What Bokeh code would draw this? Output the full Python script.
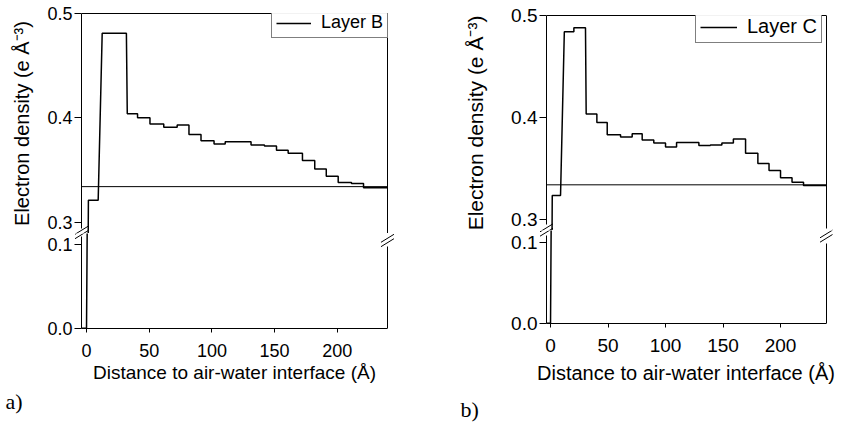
from bokeh.plotting import figure
from bokeh.models import (FixedTicker, PrintfTickFormatter, Range1d, LinearAxis, Title)
from bokeh.layouts import column, row
from bokeh.embed import file_html
from bokeh.resources import INLINE

# ---------------- data ----------------
# Layer B: leading part of the profile (x in Angstrom, density in e/A^3)
layer_b_head_x = [-4.0, 0.0, 1.5, 9.3, 12.5, 31.8]
layer_b_head_y = [0.0, 0.0, 0.321, 0.321, 0.481, 0.481]
# Layer B: slab boundaries and slab densities after the peak
layer_b_edges = [32.5, 40.7, 50.6, 61.6, 72.3, 81.7, 91.3, 101.7, 110.6, 131.2,
                 141.9, 151.5, 160.8, 172.2, 182.0, 191.2, 200.7, 211.3, 220.9, 240.0]
layer_b_vals = [0.404, 0.400, 0.394, 0.391, 0.393, 0.384, 0.378, 0.375, 0.377,
                0.374, 0.373, 0.369, 0.366, 0.359, 0.351, 0.344, 0.338, 0.337, 0.333]

# Layer C
layer_c_head_x = [-3.5, 0.0, 1.5, 8.7, 12.0, 20.3, 20.3, 30.4]
layer_c_head_y = [0.0, 0.0, 0.3235, 0.3235, 0.484, 0.484, 0.488, 0.488]
layer_c_edges = [31.0, 40.3, 49.3, 60.9, 71.0, 79.7, 89.8, 100.0, 109.6, 129.0,
                 139.0, 149.0, 159.0, 169.6, 180.3, 190.0, 200.0, 210.0, 220.0, 240.0]
layer_c_vals = [0.4035, 0.395, 0.383, 0.381, 0.384, 0.378, 0.375, 0.371, 0.3755,
                0.3725, 0.373, 0.375, 0.379, 0.365, 0.355, 0.348, 0.341, 0.3366, 0.3333]

water_density = 0.334
x_ticks = [0, 50, 100, 150, 200]
upper_y_ticks = [0.3, 0.4, 0.5]
lower_y_ticks = [0.0, 0.1]
y_label = "Electron density (e Å⁻³)"
x_label = "Distance to air-water interface (Å)"

FONT = "Liberation Sans"


def profile(head_x, head_y, edges, vals):
    xs, ys = list(head_x), list(head_y)
    for i, v in enumerate(vals):
        xs += [edges[i], edges[i + 1]]
        ys += [v, v]
    return xs, ys


def style_axis(ax, size):
    ax.axis_line_color = "black"
    ax.axis_line_width = 1
    ax.major_tick_line_color = "black"
    ax.minor_tick_line_color = None
    ax.major_tick_in = 0
    ax.major_label_text_font = FONT
    ax.major_label_text_font_size = size
    ax.major_label_text_color = "black"
    ax.axis_label_text_font = FONT
    ax.axis_label_text_font_style = "normal"
    ax.axis_label_text_color = "black"


def bare_axis(**kw):
    ax = LinearAxis(ticker=FixedTicker(ticks=[]), **kw)
    ax.axis_line_color = "black"
    ax.axis_line_width = 1
    ax.major_tick_line_color = None
    ax.minor_tick_line_color = None
    ax.major_label_text_font_size = "0px"
    return ax


def left_axis(ax, g, ticks):
    # the axis sits on the frame edge; its visible line is drawn a few px inside
    style_axis(ax, g["tick_fs"])
    ax.axis_line_color = None
    ax.ticker = FixedTicker(ticks=ticks)
    ax.formatter = PrintfTickFormatter(format="%.1f")
    ax.major_tick_in = g["ax_px"] - g["lb"]
    ax.major_tick_out = 0
    ax.major_label_standoff = g["ytick_so"]


def panel(xs, ys, name, tag, g):
    x0, x1 = g["x0"], 240.0                 # axis limits (data)
    sx = g["sx"]
    fl = g["lb"]
    xs0 = x0 - (g["ax_px"] - fl) / sx
    xr = (xs0, xs0 + g["fw"] / sx)

    def up_y(py):
        return 0.5 - (py - g["up_top"]) / g["sy_up"]

    def lo_y(py):
        return g["lo_y0"] + (g["frame_bot"] - py) / g["sy_lo"]

    # ---------- upper part ----------
    up = figure(width=g["w"], height=g["split"], x_range=Range1d(*xr),
                y_range=Range1d(up_y(g["split"]), 0.5), output_backend="svg",
                toolbar_location=None, x_axis_location=None,
                min_border_left=g["lb"], min_border_right=g["rb"],
                min_border_top=g["up_top"], min_border_bottom=0)
    up.outline_line_color = None
    up.xgrid.grid_line_color = None
    up.ygrid.grid_line_color = None
    up.line(xs, ys, line_color="black", line_width=1.5, legend_label=name)
    up.line([x0, x1], [water_density, water_density], line_color="black", line_width=1)
    # left axis line of the upper part (stops at the break)
    up.line([x0, x0], [up_y(g["lgap"][0]), 0.5], line_color="black", line_width=1)

    ya = up.yaxis[0]
    left_axis(ya, g, upper_y_ticks)
    ya.axis_label = y_label
    ya.axis_label_text_font_size = g["ylab_fs"]
    ya.axis_label_standoff = g["ylab_so"]

    up.add_layout(bare_axis(bounds=(x0, x1)), "above")
    up.add_layout(bare_axis(fixed_location=x1, bounds=(up_y(g["rgap"][0]), 0.5)), "right")

    lg = up.legend[0]
    lg.location = g["leg_loc"]
    lg.margin = 0
    lg.padding = g["leg_pad"]
    lg.spacing = 0
    lg.border_line_color = "black"
    lg.border_line_width = 1
    lg.label_text_font = FONT
    lg.label_text_font_size = g["leg_fs"]
    lg.label_text_line_height = 1.0
    lg.label_text_color = "black"
    lg.glyph_width = g["leg_gw"]
    lg.glyph_height = 16
    lg.label_height = 16
    lg.label_standoff = g["leg_ls"]

    # ---------- lower part ----------
    lo = figure(width=g["w"], height=429 - g["split"], x_range=up.x_range,
                y_range=Range1d(g["lo_y0"], lo_y(g["split"])), output_backend="svg",
                toolbar_location=None,
                min_border_left=g["lb"], min_border_right=g["rb"],
                min_border_top=0, min_border_bottom=429 - g["frame_bot"])
    lo.outline_line_color = None
    lo.xgrid.grid_line_color = None
    lo.ygrid.grid_line_color = None
    lo.line(xs, ys, line_color="black", line_width=1.5)
    lo.line([x0, x0], [g["lo_y0"], lo_y(g["lgap"][1])], line_color="black", line_width=1)

    ly = lo.yaxis[0]
    left_axis(ly, g, lower_y_ticks)
    lo.add_layout(bare_axis(fixed_location=x1, bounds=(g["lo_y0"], lo_y(g["rgap"][1]))), "right")

    lx = lo.xaxis[0]
    style_axis(lx, g["tick_fs"])
    lx.bounds = (x0, x1)
    lx.ticker = FixedTicker(ticks=x_ticks)
    lx.major_tick_out = 4
    lx.major_label_standoff = g["xtick_so"]
    lx.axis_label = x_label
    lx.axis_label_text_font_size = g["xlab_fs"]
    lx.axis_label_standoff = g["xlab_so"]

    lo.add_layout(Title(text=tag, align="left", offset=g["tag_off"],
                        standoff=g["tag_so"], text_font="Liberation Serif",
                        text_font_size="22px", text_font_style="normal",
                        text_color="black"), "below")

    # ---------- axis-break marks "//" (both parts, clipped at the split) ----------
    mx0, my0, mx1, my1 = [], [], [], []
    for (cxp, cyp) in ((g["ax_px"], sum(g["lgap"]) / 2.0),
                       (g["ax_px"] + (x1 - x0) * sx, sum(g["rgap"]) / 2.0)):
        for off in (-2.2, 2.2):
            mx0.append(cxp - 6.5)
            my0.append(cyp + 4 + off)
            mx1.append(cxp + 6.5)
            my1.append(cyp - 4 + off)
    to_x = lambda px: xr[0] + (px - fl) / sx
    up.segment(x0=[to_x(v) for v in mx0], y0=[up_y(v) for v in my0],
               x1=[to_x(v) for v in mx1], y1=[up_y(v) for v in my1],
               line_color="black", line_width=1)
    lo.segment(x0=[to_x(v) for v in mx0], y0=[lo_y(v) for v in my0],
               x1=[to_x(v) for v in mx1], y1=[lo_y(v) for v in my1],
               line_color="black", line_width=1)
    return column(up, lo)


# pixel geometry (relative to each panel's own left edge / window top)
geo_a = dict(w=412, lb=74, rb=18, fw=320, x0=-4.0, ax_px=81, sx=1.254,
             up_top=13, sy_up=1043.0, split=233, frame_bot=328,
             lo_y0=-0.0004, sy_lo=837.0,
             lgap=(228, 236), rgap=(234, 246),
             tick_fs="18px", ytick_so=2, ylab_fs="20px", ylab_so=11,
             xtick_so=11, xlab_fs="19px", xlab_so=2,
             leg_loc=(197, 195), leg_pad=4, leg_fs="18px", leg_gw=35, leg_ls=10,
             tag_off=-69, tag_so=3)

geo_b = dict(w=434, lb=127, rb=14, fw=293, x0=-3.5, ax_px=134, sx=1.15,
             up_top=15, sy_up=1020.0, split=230, frame_bot=323,
             lo_y0=-0.0004, sy_lo=810.0,
             lgap=(224, 235), rgap=(228, 243),
             tick_fs="19px", ytick_so=2, ylab_fs="21px", ylab_so=21,
             xtick_so=11, xlab_fs="20px", xlab_so=7,
             leg_loc=(156, 187), leg_pad=4, leg_fs="20px", leg_gw=37, leg_ls=10,
             tag_off=-79, tag_so=16)

bx, by = profile(layer_b_head_x, layer_b_head_y, layer_b_edges, layer_b_vals)
cx, cy = profile(layer_c_head_x, layer_c_head_y, layer_c_edges, layer_c_vals)

pa = panel(bx, by, "Layer B", "a)", geo_a)
pb = panel(cx, cy, "Layer C", "b)", geo_b)

layout = row(pa, pb)
open("out.html", "w").write(file_html(layout, INLINE))
